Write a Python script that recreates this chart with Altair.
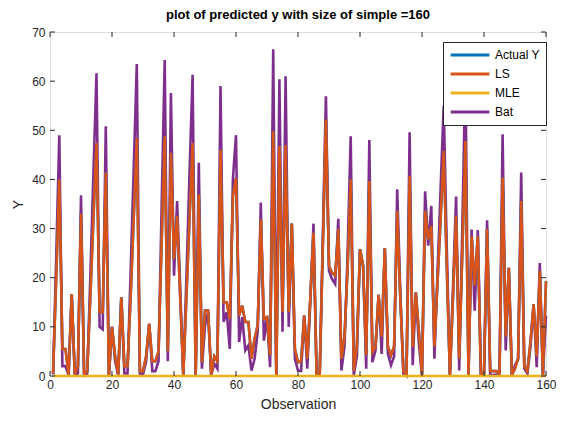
import altair as alt
import pandas as pd

obs = list(range(1, 161))

ls_y = [0.5, 20, 40, 5.5, 5.5, 0.3, 16.7, 0.3, 2, 33,
        0.3, 1, 16, 32, 47.4, 13, 13, 41.4, 0.2, 10,
        4, 0.3, 16, 2, 2, 16, 32, 48.4, 1, 1,
        4, 10.6, 3, 3, 5, 27, 48.8, 5, 45.4, 23.8,
        32.6, 16, 0.2, 16, 32, 47.4, 0.3, 37, 2.8, 13.3,
        13.3, 0.3, 4, 3, 46, 15, 15, 11.6, 36.6, 40.3,
        12.3, 14.3, 11, 11, 3.5, 7.6, 10.3, 31.9, 11.6, 12,
        4.2, 49.8, 0.2, 46.8, 13, 47, 13, 31, 5.5, 2.8,
        3, 12.3, 3.5, 16, 29.2, 0.3, 0.3, 26, 52.2, 22.4,
        21, 20.4, 29.9, 3.5, 8, 22, 40, 1, 6.2, 25.8,
        22.4, 4.2, 39.7, 4.9, 6, 16.5, 8, 26, 6, 4.2,
        6, 33.6, 16, 1, 0.2, 40.7, 5.9, 17, 9, 0.3,
        33.6, 27.8, 30.5, 6, 19, 32, 45.8, 22, 0.2, 16,
        32.6, 3.5, 25, 47.8, 0.2, 28.4, 18.4, 28.4, 0.3, 0.5,
        29.9, 1, 1, 1, 0.5, 40.4, 8, 22, 0.2, 1.5,
        3.5, 35.6, 2, 1, 7, 14.6, 4, 21.4, 0.2, 19.3]

bat_y = [0.3, 24, 49, 2, 2, 0.2, 16.7, 0.2, 0.5, 36.8,
         0.2, 0.5, 20, 41, 61.6, 10, 9.5, 50.8, 0.1, 10,
         3, 0.2, 16, 0.5, 0.5, 21, 42, 63.5, 0.5, 0.3,
         3, 10.6, 1, 1, 3, 34, 64.3, 3, 57.6, 20.4,
         35.6, 18, 0.1, 20, 41, 61.3, 0.2, 43.4, 1.5, 10.3,
         13, 0.2, 2.5, 1.5, 59, 11, 13, 5.5, 40, 49,
         6.9, 12, 5.2, 6.2, 1.1, 3.5, 9, 35.3, 7.2, 12,
         1.8, 66.5, 0.1, 60.4, 9, 61, 10, 31, 3.5, 1.1,
         1, 12.3, 1.5, 16, 31, 0.2, 0.2, 28, 56.9, 21.4,
         19.7, 18.7, 32, 1.1, 6, 25, 48.8, 0.2, 4, 25.8,
         22.4, 1.5, 48, 2.8, 5.2, 16.5, 4.5, 26, 4.5, 2.2,
         4, 38, 17, 0.5, 0.1, 49.6, 2.2, 17, 6.5, 0.2,
         37.6, 26.5, 34.6, 3.5, 21, 38, 55, 26, 0.1, 18,
         36.5, 1.1, 30, 62, 0.1, 29.8, 13.3, 29.7, 0.2, 0.3,
         31.7, 0.2, 0.2, 0.3, 0.2, 49.2, 5.2, 22, 0.1, 2.2,
         3.5, 41.4, 1.5, 0.5, 6, 14.6, 1.8, 23, 0.1, 12.3]

actual_y = list(ls_y)
mle_y = [0.0] * 160

series_names = ["Actual Y", "LS", "MLE", "Bat"]
series_colors = ["#0072BD", "#D95319", "#EDB120", "#7E2F8E"]
x_ticks = [0, 20, 40, 60, 80, 100, 120, 140, 160]
y_ticks = [0, 10, 20, 30, 40, 50, 60, 70]

W, H = 496, 344
FONT = "Liberation Sans"
TXT = "#262626"

def frame(name, vals):
    return pd.DataFrame({"obs": obs, "value": vals, "series": name})

xs = alt.Scale(domain=[0, 160], nice=False, zero=False)
ys = alt.Scale(domain=[0, 70], nice=False)
cs = alt.Scale(domain=series_names, range=series_colors)

xaxis = alt.Axis(values=x_ticks, tickSize=0, domain=False, grid=False, labelPadding=3,
                 labelFlush=False, labelFontSize=12, labelColor=TXT, labelFont=FONT,
                 title="Observation", titleFontSize=14, titleFont=FONT, titleColor=TXT,
                 titleFontWeight="normal", titlePadding=7)
yaxis = alt.Axis(values=y_ticks, tickSize=0, domain=False, grid=False, labelPadding=5,
                 labelFlush=False, labelFontSize=12, labelColor=TXT, labelFont=FONT,
                 title="Y", titleFontSize=14, titleFont=FONT, titleColor=TXT,
                 titleFontWeight="normal", titlePadding=6)

legend = alt.Legend(title=None, orient="none", legendX=393, legendY=10,
                    symbolType="stroke", symbolSize=1500, symbolStrokeWidth=3,
                    labelFontSize=12, labelFont=FONT, labelColor="#000000",
                    fillColor="white", strokeColor=TXT, padding=6,
                    clipHeight=14, rowPadding=5, labelOffset=4)

def line(name, vals, width=2.6):
    return alt.Chart(frame(name, vals)).mark_line(strokeWidth=width).encode(
        x=alt.X("obs:Q", scale=xs, axis=xaxis),
        y=alt.Y("value:Q", scale=ys, axis=yaxis),
        color=alt.Color("series:N", scale=cs, legend=legend, sort=series_names),
    )

xt = pd.DataFrame({"obs": x_ticks})
yt = pd.DataFrame({"value": y_ticks})
tick_bot = alt.Chart(xt).mark_rule(color=TXT, strokeWidth=1).encode(
    x=alt.X("obs:Q", scale=xs, axis=xaxis), y=alt.value(H), y2=alt.value(H - 5))
tick_top = alt.Chart(xt).mark_rule(color=TXT, strokeWidth=1).encode(
    x=alt.X("obs:Q", scale=xs, axis=xaxis), y=alt.value(0), y2=alt.value(5))
tick_l = alt.Chart(yt).mark_rule(color=TXT, strokeWidth=1).encode(
    y=alt.Y("value:Q", scale=ys, axis=yaxis), x=alt.value(0), x2=alt.value(5))
tick_r = alt.Chart(yt).mark_rule(color=TXT, strokeWidth=1).encode(
    y=alt.Y("value:Q", scale=ys, axis=yaxis), x=alt.value(W), x2=alt.value(W - 5))

chart = alt.layer(
    line("Bat", bat_y),
    line("Actual Y", actual_y),
    line("LS", ls_y),
    line("MLE", mle_y),
    tick_bot, tick_top, tick_l, tick_r,
).properties(
    width=W, height=H,
    title=alt.TitleParams("plot of predicted y with size of simple =160", fontSize=13,
                          font=FONT, fontWeight="bold", color="#000000", offset=4),
    autosize="none",
    padding={"left": 42, "top": 24, "right": 11, "bottom": 44},
).configure_view(stroke=TXT, strokeWidth=1).configure(background="white")

chart.save("out.html", embed_options={"renderer": "svg", "actions": False})
